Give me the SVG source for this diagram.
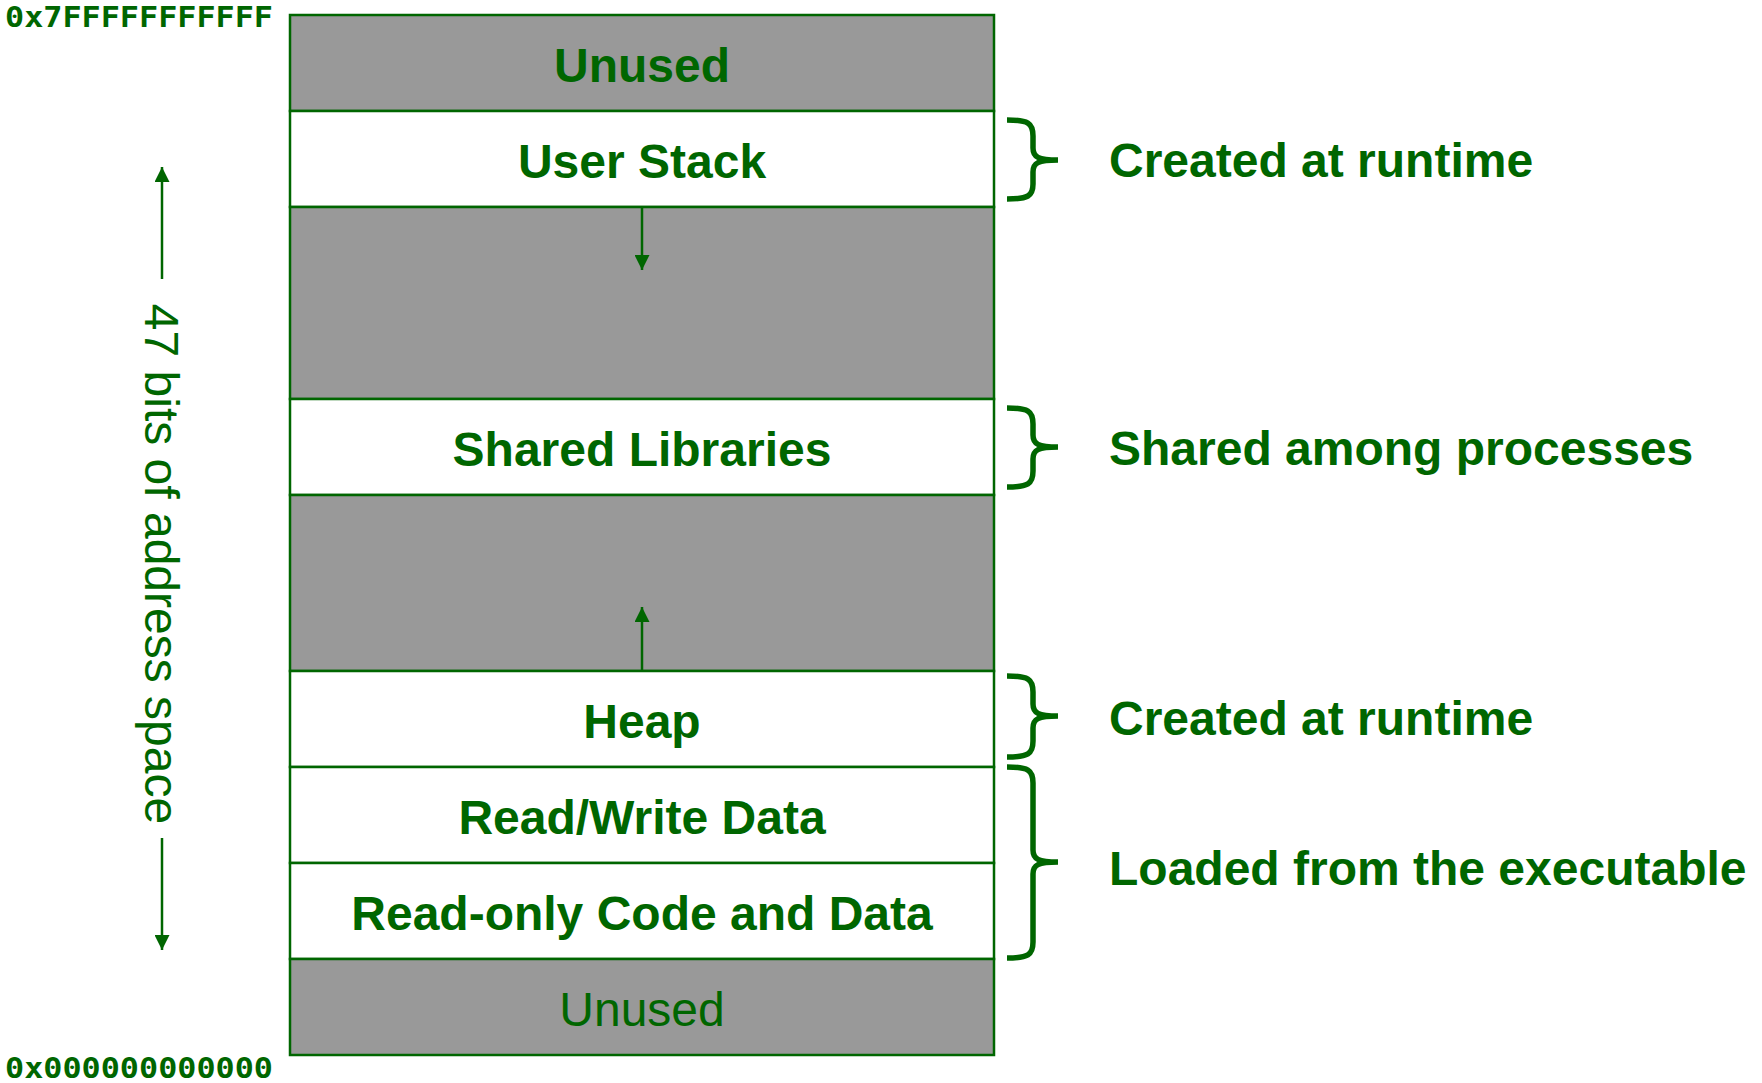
<svg xmlns="http://www.w3.org/2000/svg" width="1762" height="1083" viewBox="0 0 1762 1083">
<defs>
<style>
.seg{stroke:#006600;stroke-width:2.5}
.gray{fill:#999999}
.white{fill:#ffffff}
.lbl{font-family:"Liberation Sans",Arial,sans-serif;font-size:48px;font-weight:bold;fill:#006600;text-anchor:middle}
.side{font-family:"Liberation Sans",Arial,sans-serif;font-size:48px;font-weight:bold;fill:#006600}
.addr{font-family:"DejaVu Sans Mono",monospace;font-size:29px;font-weight:bold;fill:#006600}
.brace{fill:none;stroke:#006600;stroke-width:5.5}
.line{stroke:#006600;stroke-width:2.5;fill:none}
</style>
<marker id="ah" viewBox="0 0 10 10" refX="10" refY="5" markerWidth="6" markerHeight="6" markerUnits="strokeWidth" orient="auto">
<path d="M0,0 L10,5 L0,10 Z" fill="#006600"/>
</marker>
</defs>
<rect width="1762" height="1083" fill="#ffffff"/>

<g id="unused-top"><rect class="seg gray" x="290" y="15" width="704" height="96"/><text class="lbl" x="642" y="82">Unused</text></g>
<g id="user-stack"><rect class="seg white" x="290" y="111" width="704" height="96"/><text class="lbl" x="642" y="178">User Stack</text></g>
<g id="gap-1"><rect class="seg gray" x="290" y="207" width="704" height="192"/></g>
<g id="shared-libs"><rect class="seg white" x="290" y="399" width="704" height="96"/><text class="lbl" x="642" y="466">Shared Libraries</text></g>
<g id="gap-2"><rect class="seg gray" x="290" y="495" width="704" height="176"/></g>
<g id="heap"><rect class="seg white" x="290" y="671" width="704" height="96"/><text class="lbl" x="642" y="738">Heap</text></g>
<g id="rw-data"><rect class="seg white" x="290" y="767" width="704" height="96"/><text class="lbl" x="642" y="834">Read/Write Data</text></g>
<g id="ro-code"><rect class="seg white" x="290" y="863" width="704" height="96"/><text class="lbl" x="642" y="930">Read-only Code and Data</text></g>
<g id="unused-bottom"><rect class="seg gray" x="290" y="959" width="704" height="96"/><text class="lbl" x="642" y="1026" style="font-weight:normal">Unused</text></g>

<g id="connectors">
<line class="line" x1="642" y1="208" x2="642" y2="270" marker-end="url(#ah)"/>
<line class="line" x1="642" y1="670" x2="642" y2="607" marker-end="url(#ah)"/>
<line class="line" x1="162" y1="279" x2="162" y2="167" marker-end="url(#ah)"/>
<line class="line" x1="162" y1="838" x2="162" y2="950" marker-end="url(#ah)"/>
</g>

<g id="braces">
<path class="brace" d="M1007,120 C1028,120 1033,123 1033,136 L1033,148 C1033,157 1038,160 1058,160 C1038,160 1033,163 1033,172 L1033,184 C1033,196 1028,199 1007,199"/>
<path class="brace" d="M1007,408 C1028,408 1033,411 1033,424 L1033,435 C1033,444 1038,447 1058,447 C1038,447 1033,450 1033,459 L1033,471 C1033,484 1028,487 1007,487"/>
<path class="brace" d="M1007,676 C1028,676 1033,679 1033,692 L1033,704 C1033,713 1038,716 1058,716 C1038,716 1033,719 1033,728 L1033,741 C1033,754 1028,757 1007,757"/>
<path class="brace" d="M1007,767 C1028,767 1033,770 1033,783 L1033,850 C1033,859 1038,862 1058,862 C1038,862 1033,865 1033,874 L1033,942 C1033,955 1028,958 1007,958"/>
</g>

<g id="side-labels">
<text class="side" x="1109" y="177">Created at runtime</text>
<text class="side" x="1109" y="465">Shared among processes</text>
<text class="side" x="1109" y="735">Created at runtime</text>
<text class="side" x="1109" y="885">Loaded from the executable</text>
</g>

<g id="addresses">
<text class="addr" x="5" y="27" textLength="268" lengthAdjust="spacingAndGlyphs">0x7FFFFFFFFFFF</text>
<text class="addr" x="5" y="1078" textLength="268" lengthAdjust="spacingAndGlyphs">0x000000000000</text>
</g>

<g id="axis-label">
<text transform="translate(161,564) rotate(90)" x="0" y="0" dominant-baseline="central" text-anchor="middle" font-family="'Liberation Sans',Arial,sans-serif" font-size="48" fill="#006600">47 bits of address space</text>
</g>
</svg>
